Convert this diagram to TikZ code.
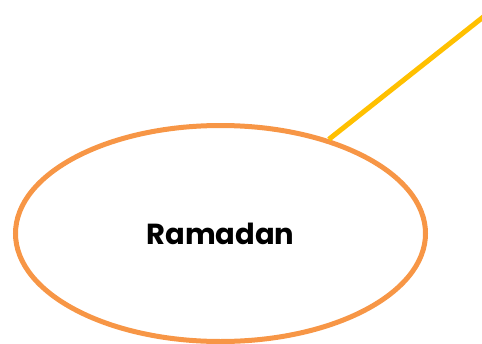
\documentclass[tikz,border=0pt]{standalone}
\usepackage{fontspec}
\setmainfont{Poppins}
\usetikzlibrary{shapes.geometric}

\definecolor{ovalorange}{HTML}{F79646}
\definecolor{linkgold}{HTML}{FFC000}

\begin{document}
\begin{tikzpicture}[
    x=1pt,y=-1pt,
    topic/.style={ellipse,draw=ovalorange,line width=5pt,inner sep=0pt,
        minimum width=410pt,minimum height=216pt,
        font=\fontsize{29}{34}\selectfont\bfseries},
    link/.style={draw=linkgold,line width=5pt}
]
\useasboundingbox (0,0) rectangle (482,343);

\node[topic] (ram) at (220.5,233.5) {Ramadan};

\coordinate (out) at (486,14.8); % off the right edge

\draw[link] (ram.41) -- (out);

\end{tikzpicture}
\end{document}
